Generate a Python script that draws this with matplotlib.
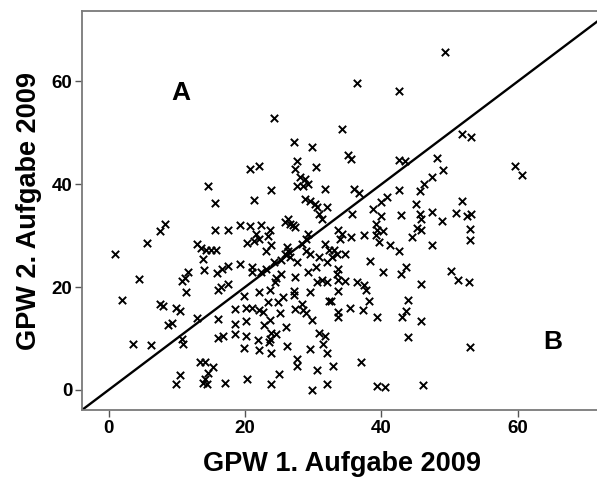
import matplotlib
matplotlib.use("Agg")
import matplotlib.pyplot as plt

plt.rcParams['font.family'] = ['Liberation Sans', 'DejaVu Sans']
plt.rcParams['font.weight'] = 'bold'

# GPW 1. Aufgabe 2009 (x) and GPW 2. Aufgabe 2009 (y)
x_vals = [
    36.4, 42.6, 24.3, 34.2, 27.2, 29.9, 49.4, 51.8, 53.1,
    20.8, 22.0, 14.6, 15.6, 21.3, 8.2, 7.6, 5.7, 0.9, 15.6, 17.5, 19.2, 20.7,
    12.9, 13.5, 14.3, 15.0, 15.8, 20.3, 21.3, 13.8, 11.7, 14.0, 15.9, 16.6,
    17.5, 19.3, 21.1, 21.1,
    4.5, 10.7, 11.2, 11.4, 16.1, 16.5, 17.5, 1.9, 7.6, 8.0, 9.9, 10.5, 8.7,
    9.3, 12.9, 3.6, 6.2, 10.8, 10.9, 19.8, 18.5, 20.2, 21.1, 16.1, 18.6, 20.2,
    16.1, 16.8, 18.6, 20.1, 19.8, 13.4, 14.2, 15.3, 14.6, 14.2, 13.9, 14.5,
    10.5, 9.9, 17.1, 20.3,
    27.6, 27.3, 30.4, 35.1, 35.5, 42.6, 43.4, 28.0, 28.8, 27.6, 28.5, 29.3,
    23.8, 31.8, 36.0, 36.7, 42.6, 46.3, 45.6, 28.8, 29.5, 30.3, 30.6, 32.0,
    30.8, 31.3, 35.7, 38.8, 39.9, 40.8, 39.9, 42.9, 45.1, 45.6, 45.8, 45.3,
    45.8, 44.5, 39.2, 39.4, 40.3, 39.2, 37.4, 39.7, 41.3, 42.6, 38.4, 40.3,
    43.6, 42.9, 26.3, 25.8, 26.6, 27.1, 27.4, 22.4, 23.6, 21.6, 22.1, 23.4,
    29.3, 28.9, 33.7, 34.2, 35.5, 33.9, 23.8, 23.1, 26.1, 26.3, 25.8, 26.6,
    28.3, 29.0, 29.5, 31.8, 32.3, 33.0, 33.5, 32.7, 34.6, 30.9, 24.3, 25.3,
    27.6, 23.1, 22.4, 25.3, 29.3, 30.4, 32.0, 33.7, 33.5,
    48.1, 49.1, 47.4, 59.6, 60.6, 51.8, 47.5, 48.9, 51.0, 52.5, 53.2, 53.0,
    53.0, 47.5, 50.2,
    22.0, 23.6, 24.4, 24.6, 23.4, 24.8, 25.6, 27.3, 27.2, 27.2, 29.6, 30.5,
    31.3, 32.0, 33.7, 33.7, 34.7, 36.5, 37.4, 37.8, 45.8, 32.3, 32.6, 38.2,
    35.4, 37.3, 43.9, 43.6, 43.0, 45.8, 39.4, 43.9, 33.6, 33.6, 22.1, 22.6,
    25.1, 27.3, 28.4, 28.5, 28.9, 29.8, 23.6, 22.8, 26.0, 23.8, 24.6, 23.6,
    23.5, 21.9, 22.0, 23.8, 26.1, 30.9, 31.8, 31.4, 32.0, 29.6, 27.7, 27.7,
    32.9, 30.5, 37.0, 25.0, 23.8, 29.9, 32.0, 39.3, 40.5, 46.1,
    51.3, 52.8, 53.0,
]
y_vals = [
    59.6, 58.2, 52.8, 50.7, 48.3, 47.2, 65.8, 49.7, 49.2,
    43.0, 43.6, 39.6, 36.4, 37.0, 32.3, 30.9, 28.5, 26.5, 31.1, 31.1, 32.0, 31.8,
    28.4, 27.6, 27.2, 27.2, 27.2, 28.5, 29.0, 25.5, 23.0, 23.3, 22.7, 23.5,
    24.2, 24.4, 24.0, 22.9,
    21.5, 21.2, 21.7, 19.1, 19.4, 20.0, 20.6, 17.4, 16.8, 16.3, 16.0, 15.4, 12.6,
    13.0, 13.9, 9.0, 8.8, 10.0, 9.0, 18.2, 15.8, 16.0, 16.0, 13.8, 12.8, 13.4,
    10.2, 10.4, 10.8, 10.4, 8.2, 5.4, 5.4, 4.5, 3.2, 2.2, 1.4, 1.1,
    2.9, 1.2, 1.4, 2.2,
    44.6, 43.0, 43.3, 45.6, 44.9, 44.7, 44.6, 41.4, 41.0, 39.7, 39.7, 40.1,
    38.8, 39.1, 39.1, 38.4, 38.8, 40.1, 38.6, 37.2, 36.8, 36.2, 35.5, 35.5,
    34.2, 33.3, 34.2, 35.2, 36.5, 37.6, 33.9, 34.1, 36.2, 34.2, 33.3, 31.5,
    31.1, 29.8, 32.3, 31.1, 31.0, 30.2, 30.2, 28.7, 28.1, 27.0, 25.0, 22.9,
    24.0, 22.6, 33.3, 32.6, 32.3, 32.0, 31.6, 32.0, 31.1, 30.4, 29.4, 30.0,
    30.4, 29.4, 31.1, 30.4, 29.8, 29.4, 28.1, 27.1, 27.8, 27.0, 26.5, 25.8,
    28.4, 27.1, 26.5, 28.4, 27.2, 27.2, 26.5, 25.8, 26.5, 25.8, 24.8, 25.2,
    24.8, 23.5, 22.9, 22.6, 22.9, 23.9, 24.8, 23.5, 22.6,
    45.1, 42.7, 41.4, 43.6, 41.8, 36.7, 34.6, 32.9, 34.4, 33.9, 34.2, 31.3,
    29.2, 28.1, 23.2,
    19.1, 19.4, 21.0, 21.7, 17.1, 17.1, 18.0, 22.0, 19.3, 18.4, 19.1, 21.0,
    21.3, 21.0, 19.3, 21.3, 21.2, 21.0, 20.4, 19.5, 20.7, 17.3, 17.3, 17.3,
    16.0, 15.6, 17.4, 15.4, 14.1, 13.4, 14.1, 10.3, 15.2, 14.2, 15.5, 15.2,
    15.0, 15.8, 16.8, 15.5, 15.0, 13.6, 13.7, 12.6, 12.3, 11.1, 10.8, 10.0,
    9.3, 9.7, 7.8, 7.2, 8.5, 11.1, 10.4, 9.0, 7.2, 8.0, 6.1, 4.6,
    4.6, 3.8, 5.4, 3.1, 1.2, -0.1, 1.2, 0.7, 0.6, 0.9,
    21.3, 21.0, 8.4,
]

x_ticks = [0, 20, 40, 60]
y_ticks = [0, 20, 40, 60]
x_label = "GPW 1. Aufgabe 2009"
y_label = "GPW 2. Aufgabe 2009"

fig = plt.figure(figsize=(5.97, 4.86), dpi=100)
ax = fig.add_axes([82 / 597, 1 - 410 / 486, 1 - 82 / 597 + 0.01, 399 / 486])

ax.scatter(x_vals, y_vals, marker='x', s=28, c='black', linewidths=1.4, zorder=3)
ax.axline((0, 0), slope=1, color='black', linewidth=1.7, zorder=2)

ax.set_xlim(-3.9, 72.5)
ax.set_ylim(-3.9, 73.7)
ax.set_xticks(x_ticks)
ax.set_yticks(y_ticks)
ax.tick_params(axis='both', labelsize=13.5, length=5, width=1, color='#555555', pad=2)
for lab in ax.get_xticklabels() + ax.get_yticklabels():
    lab.set_fontweight('bold')

for s in ['left', 'bottom', 'top']:
    ax.spines[s].set_color('#7a7a7a')
    ax.spines[s].set_linewidth(1.3)
ax.spines['right'].set_visible(False)

ax.set_xlabel(x_label, fontsize=19.5, fontweight='bold', labelpad=10)
ax.set_ylabel(y_label, fontsize=19.5, fontweight='bold', labelpad=7)

ax.text(10.6, 57.8, "A", fontsize=19, fontweight='bold', ha='center', va='center')
ax.text(65.2, 9.3, "B", fontsize=19, fontweight='bold', ha='center', va='center')

fig.savefig("out.png", dpi=100)
